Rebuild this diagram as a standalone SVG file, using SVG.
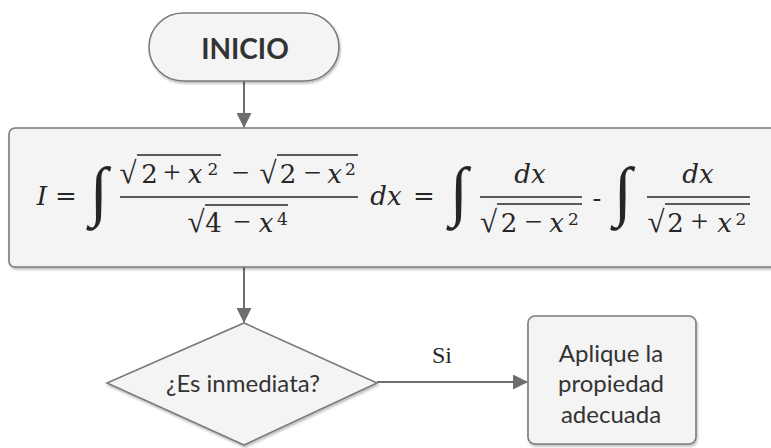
<svg xmlns="http://www.w3.org/2000/svg" width="771" height="448" viewBox="0 0 771 448">
<style>
.shape{fill:#f4f4f4;stroke:#7b7b7b;stroke-width:1.6}
.conn{fill:none;stroke:#6e6e6e;stroke-width:2}
.sans{font-family:Lato,"Open Sans","Liberation Sans",sans-serif;fill:#333333}
.m{font-family:"DejaVu Serif","Liberation Serif",serif;font-size:26px;fill:#262626;text-anchor:middle}
.i{font-style:italic}
.sup{font-size:17px}
.op{font-family:"Liberation Serif","DejaVu Serif",serif;font-size:31px}
.rad{font-family:"Liberation Serif","DejaVu Serif",serif;font-size:31px}
.int{font-family:"Liberation Serif","DejaVu Serif",serif;font-size:66px}
.bar{stroke:#262626;stroke-width:1.5}
</style>
<defs>
<marker id="arr" markerWidth="15" markerHeight="15" refX="14" refY="7.5" orient="auto" markerUnits="userSpaceOnUse" viewBox="0 0 15 15">
<path d="M0,0 L15,7.5 L0,15 Z" fill="#6e6e6e"/>
</marker>
<filter id="sh" x="-5%" y="-10%" width="110%" height="130%">
<feDropShadow dx="1" dy="2" stdDeviation="1.2" flood-color="#000" flood-opacity="0.25"/>
</filter>
</defs>

<g id="connectors">
<line class="conn" x1="244" y1="81" x2="244" y2="127" marker-end="url(#arr)"/>
<line class="conn" x1="244" y1="267" x2="244" y2="322" marker-end="url(#arr)"/>
<line class="conn" x1="377" y1="382" x2="527" y2="382" marker-end="url(#arr)"/>
<text x="442" y="363" font-family="Liberation Serif, serif" font-size="24" fill="#262626" text-anchor="middle">Si</text>
</g>

<g id="inicio">
<rect class="shape" filter="url(#sh)" x="149" y="13" width="190" height="68" rx="34"/>
<text class="sans" x="245" y="59" font-size="28" font-weight="bold" text-anchor="middle">INICIO</text>
</g>

<g id="formula">
<rect class="shape" filter="url(#sh)" x="9" y="128" width="775" height="139" rx="6"/>
<text class="m i" x="42" y="205">I</text>
<text class="m" x="66" y="205">=</text>
<text class="m int" x="99" y="213">∫</text>
<!-- numerator -->
<text class="m rad" x="128" y="183">√</text>
<line class="bar" x1="137" y1="155" x2="221" y2="155"/>
<text class="m" x="149.5" y="183">2</text>
<text class="m op" x="172" y="183">+</text>
<text class="m i" x="195" y="183">x</text>
<text class="m sup" x="213" y="175">2</text>
<text class="m op" x="240.5" y="183">−</text>
<text class="m rad" x="268" y="183">√</text>
<line class="bar" x1="277" y1="155" x2="358" y2="155"/>
<text class="m" x="288" y="183">2</text>
<text class="m op" x="312.5" y="183">−</text>
<text class="m i" x="334.5" y="183">x</text>
<text class="m sup" x="350.5" y="175">2</text>
<line class="bar" x1="120" y1="197" x2="358" y2="197"/>
<!-- denominator -->
<text class="m rad" x="196" y="232">√</text>
<line class="bar" x1="205" y1="205" x2="288" y2="205"/>
<text class="m" x="213.5" y="232">4</text>
<text class="m op" x="242" y="232">−</text>
<text class="m i" x="266" y="232">x</text>
<text class="m sup" x="282.5" y="225">4</text>
<text class="m i" x="386" y="205">dx</text>
<text class="m" x="424" y="205">=</text>
<text class="m int" x="459" y="213">∫</text>
<!-- fraction 1 -->
<text class="m i" x="530" y="183">dx</text>
<line class="bar" x1="480" y1="197" x2="582" y2="197"/>
<text class="m rad" x="488.5" y="232">√</text>
<line class="bar" x1="497" y1="204" x2="582" y2="204"/>
<text class="m" x="509" y="232">2</text>
<text class="m op" x="533.5" y="232">−</text>
<text class="m i" x="556.5" y="232">x</text>
<text class="m sup" x="573.5" y="225">2</text>
<text class="m" x="597" y="207" font-size="29">-</text>
<text class="m int" x="623" y="213">∫</text>
<!-- fraction 2 -->
<text class="m i" x="698" y="183">dx</text>
<line class="bar" x1="647" y1="197" x2="750" y2="197"/>
<text class="m rad" x="656" y="232">√</text>
<line class="bar" x1="665" y1="204" x2="750" y2="204"/>
<text class="m" x="675.5" y="232">2</text>
<text class="m op" x="699.5" y="232">+</text>
<text class="m i" x="724.5" y="232">x</text>
<text class="m sup" x="741" y="225">2</text>
</g>

<g id="decision">
<polygon class="shape" filter="url(#sh)" points="244,323 377,383 244,445 107,383"/>
<text class="sans" x="243" y="392" font-size="24" text-anchor="middle">¿Es inmediata?</text>
</g>

<g id="aplique">
<rect class="shape" filter="url(#sh)" x="528" y="316" width="168" height="128" rx="7"/>
<text class="sans" font-size="24" text-anchor="middle"><tspan x="611" y="362">Aplique la</tspan><tspan x="611" y="392">propiedad</tspan><tspan x="611" y="423">adecuada</tspan></text>
</g>
</svg>
